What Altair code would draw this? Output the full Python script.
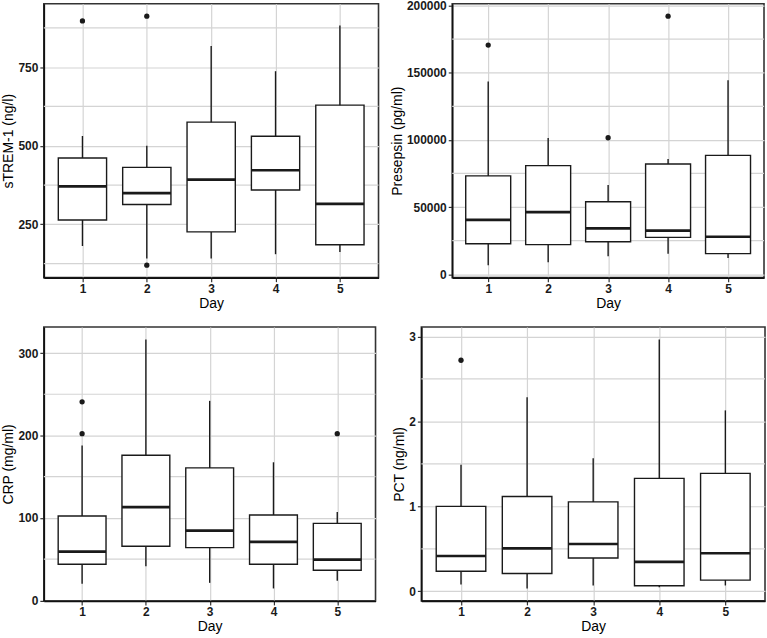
import altair as alt
import pandas as pd

DAYS = [1, 2, 3, 4, 5]

# sTREM-1 (ng/l): whisker ends, quartiles, medians and outliers per day
STREM_LOW = [181, 141, 141, 155, 162]
STREM_Q1 = [264, 313, 226, 359, 185]
STREM_MED = [371, 349, 392, 422, 315]
STREM_Q3 = [461, 431, 575, 530, 629]
STREM_HIGH = [531, 500, 817, 737, 882]
STREM_OUT_DAY = [1, 2, 2]
STREM_OUT_VAL = [897, 912, 120]
STREM_TICKS = [250, 500, 750]
STREM_MINOR = [125, 375, 625, 875]

# Presepsin (pg/ml)
PRES_LOW = [6700, 8900, 13350, 15300, 12100]
PRES_Q1 = [22700, 22000, 24200, 27400, 15300]
PRES_MED = [40500, 46200, 34100, 32400, 27900]
PRES_Q3 = [73200, 80800, 53900, 82100, 88500]
PRES_HIGH = [143400, 101400, 66500, 85800, 144400]
PRES_OUT_DAY = [1, 3, 4]
PRES_OUT_VAL = [170600, 101600, 192100]
PRES_TICKS = [0, 50000, 100000, 150000, 200000]
PRES_MINOR = [25000, 75000, 125000, 175000]

# CRP (mg/ml)
CRP_LOW = [20.1, 41.5, 21.3, 14.5, 23.8]
CRP_Q1 = [43.9, 65.6, 64.0, 43.9, 36.6]
CRP_MED = [59.2, 113.2, 84.6, 70.9, 49.5]
CRP_Q3 = [102.3, 176.0, 160.7, 103.5, 93.4]
CRP_HIGH = [187.7, 316.5, 242.0, 167.5, 107.1]
CRP_OUT_DAY = [1, 1, 5]
CRP_OUT_VAL = [240.8, 202.2, 202.2]
CRP_TICKS = [0, 100, 200, 300]
CRP_MINOR = [50, 150, 250]

# PCT (ng/ml)
PCT_LOW = [0.08, 0.035, 0.07, 0.05, 0.07]
PCT_Q1 = [0.238, 0.211, 0.394, 0.066, 0.133]
PCT_MED = [0.417, 0.507, 0.558, 0.347, 0.449]
PCT_Q3 = [1.0, 1.116, 1.053, 1.33, 1.389]
PCT_HIGH = [1.49, 2.286, 1.568, 2.965, 2.13]
PCT_OUT_DAY = [1]
PCT_OUT_VAL = [2.72]
PCT_TICKS = [0, 1, 2, 3]
PCT_MINOR = [0.5, 1.5, 2.5]

INK = "#1a1a1a"
GRID = "#d4d4d4"
BOX_HALF = 0.375  # half the box width, in day units
PANEL_H = 275


def panel(title, low, q1, med, q3, high, out_day, out_val, ticks, minor, width):
    stats = pd.DataFrame({"day": DAYS, "low": low, "q1": q1, "median": med,
                          "q3": q3, "high": high})
    outliers = pd.DataFrame({"day": out_day, "value": out_val})

    lo = min(low + out_val)
    hi = max(high + out_val)
    pad = 0.05 * (hi - lo)
    y_scale = alt.Scale(domain=[lo - pad, hi + pad], nice=False, zero=False)
    x_scale = alt.Scale(domain=[0.4, 5.6], nice=False, zero=False)
    x_axis = alt.Axis(values=DAYS, format="d", title="Day", grid=True,
                      labelFlush=False)
    y_axis = alt.Axis(values=ticks, format="d", title=title, grid=True,
                      labelFlush=False)

    def xq(field):
        return alt.X(field, type="quantitative", scale=x_scale, axis=x_axis)

    def yq(field):
        return alt.Y(field, type="quantitative", scale=y_scale, axis=y_axis)

    base = alt.Chart(stats).transform_calculate(
        left=f"datum.day - {BOX_HALF}", right=f"datum.day + {BOX_HALF}"
    )

    minor_grid = alt.Chart(pd.DataFrame({"v": minor})).mark_rule(
        color=GRID, strokeWidth=1.2
    ).encode(y=yq("v"))

    whisker = base.mark_rule(color=INK, strokeWidth=1.4).encode(
        x=xq("day"), y=yq("low"), y2="high:Q"
    )

    box = base.mark_rect(fill="white", stroke=INK, strokeWidth=1.4).encode(
        x=xq("left"), x2="right:Q", y=yq("q1"), y2="q3:Q"
    )

    median = base.mark_rule(color=INK, strokeWidth=2.7).encode(
        x=xq("left"), x2="right:Q", y=yq("median")
    )

    points = alt.Chart(outliers).mark_circle(size=28, color=INK, opacity=1).encode(
        x=xq("day"), y=yq("value")
    )

    return alt.layer(minor_grid, whisker, box, median, points).properties(
        width=width, height=PANEL_H
    )


p_strem = panel("sTREM-1 (ng/l)", STREM_LOW, STREM_Q1, STREM_MED, STREM_Q3,
                STREM_HIGH, STREM_OUT_DAY, STREM_OUT_VAL, STREM_TICKS,
                STREM_MINOR, 336)
p_pres = panel("Presepsin (pg/ml)", PRES_LOW, PRES_Q1, PRES_MED, PRES_Q3,
               PRES_HIGH, PRES_OUT_DAY, PRES_OUT_VAL, PRES_TICKS,
               PRES_MINOR, 313)
p_crp = panel("CRP (mg/ml)", CRP_LOW, CRP_Q1, CRP_MED, CRP_Q3, CRP_HIGH,
              CRP_OUT_DAY, CRP_OUT_VAL, CRP_TICKS, CRP_MINOR, 333)
p_pct = panel("PCT (ng/ml)", PCT_LOW, PCT_Q1, PCT_MED, PCT_Q3, PCT_HIGH,
              PCT_OUT_DAY, PCT_OUT_VAL, PCT_TICKS, PCT_MINOR, 345)

row1 = alt.hconcat(p_strem, p_pres, spacing=9)
row2 = alt.hconcat(p_crp, p_pct, spacing=14)

chart = (
    alt.vconcat(row1, row2, spacing=14.5)
    .properties(padding={"left": 1, "top": -2.5, "right": 0, "bottom": 0},
                background="white")
    .configure(font="Liberation Sans")
    .configure_view(stroke="#333333", strokeWidth=1.6)
    .configure_axis(
        labelFont="Liberation Sans",
        labelFontSize=12,
        labelFontWeight="bold",
        labelColor=INK,
        labelPadding=2,
        tickSize=4,
        tickColor="#333333",
        tickWidth=1.2,
        domainColor="#111111",
        domainWidth=1.6,
        gridColor=GRID,
        gridWidth=1.2,
        titleFont="Liberation Sans",
        titleFontSize=14,
        titleFontWeight="normal",
        titleColor="#000000",
        titlePadding=2,
    )
)

chart.save("out.html", embed_options={"renderer": "svg", "actions": False})
